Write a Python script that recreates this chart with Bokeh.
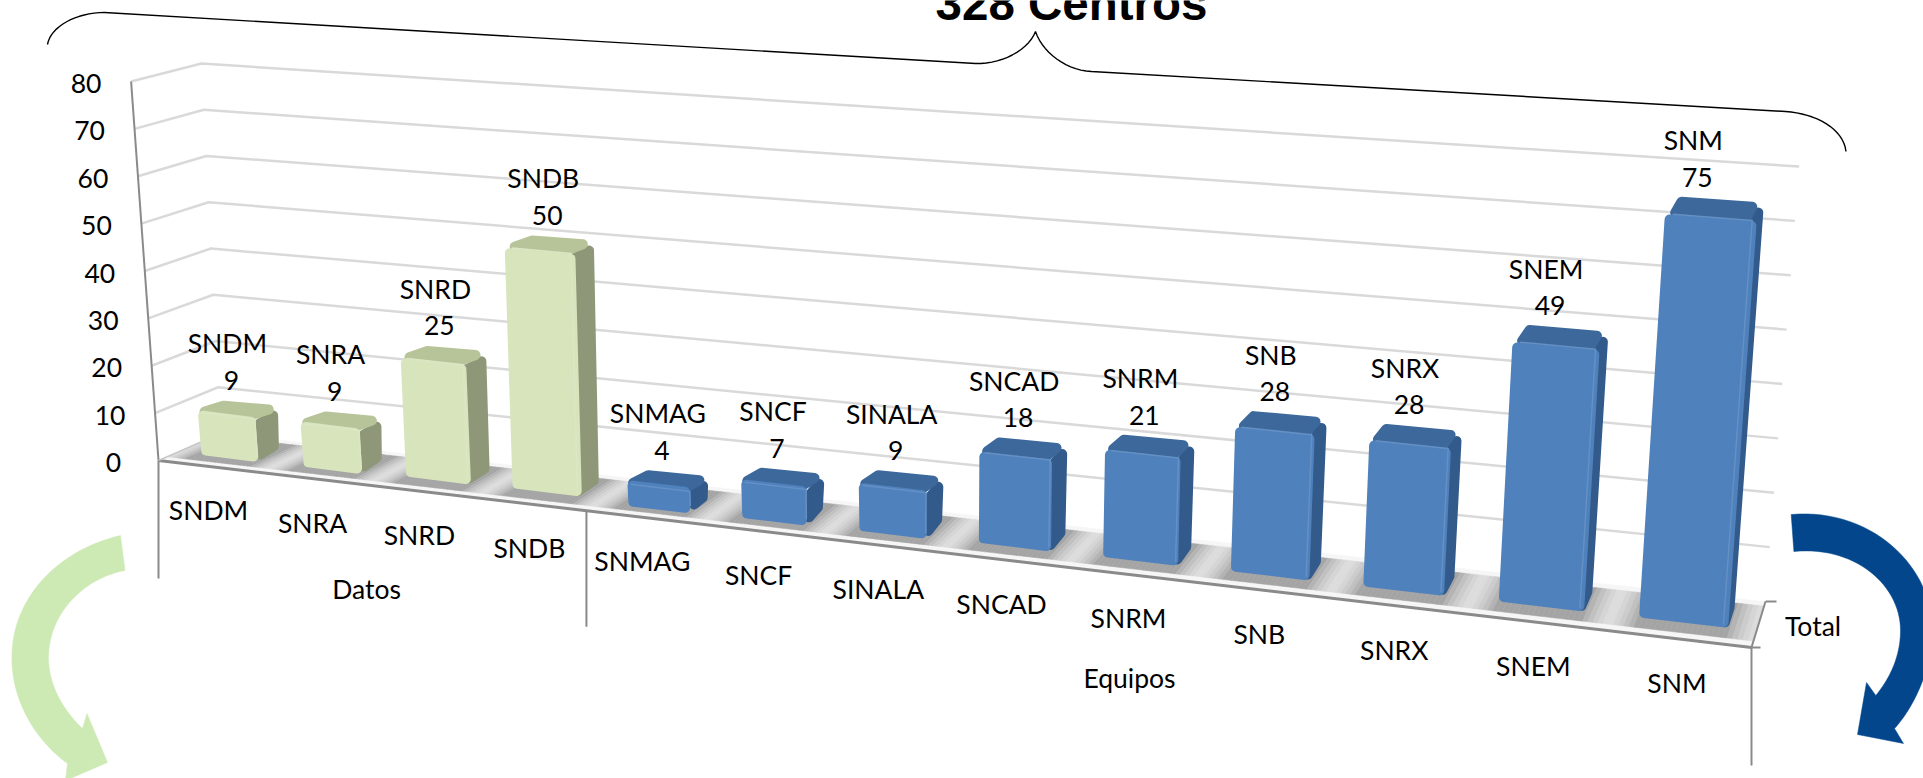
from bokeh.plotting import figure
from bokeh.models import Range1d, ColumnDataSource
from bokeh.core.properties import value
from bokeh.embed import file_html
from bokeh.resources import INLINE

# ---------- data ----------
group_names = ["Datos", "Equipos"]
group_sizes = [4, 9]
categories = ["SNDM", "SNRA", "SNRD", "SNDB", "SNMAG", "SNCF", "SINALA",
              "SNCAD", "SNRM", "SNB", "SNRX", "SNEM", "SNM"]
values = [9, 9, 25, 50, 4, 7, 9, 18, 21, 28, 28, 49, 75]
y_ticks = [0, 10, 20, 30, 40, 50, 60, 70, 80]
series_name = "Total"
title = "328 Centros"
title_mark = "**"

# ---------- look ----------
GREEN = ("#d7e4bc", "#b7c49a", "#8e9878")
BLUE = ("#4f81bd", "#3d689b", "#325a8a")
GRID = "#d9d9d9"
AXIS = "#8a8a8a"
FONT = "Lato"
N = len(categories)
VMAX = y_ticks[-1]

# ---------- 3-D projection of the chart box to page pixels ----------
F0L, F8L = (158.0, 460.0), (130.6, 81.0)
B0L, B8L = (220.0, 433.0), (201.0, 63.0)
F0R, F8R = (1751.0, 647.0), (1782.0, 208.0)
B0R, B8R = (1765.0, 601.0), (1798.6, 166.0)
PERSP = 1.21


def lerp(a, b, t):
    return (a[0] + (b[0] - a[0]) * t, a[1] + (b[1] - a[1]) * t)


def proj(u, v, d):
    t = u / N
    t = t / (t + PERSP * (1 - t))
    w = v / VMAX
    left = lerp(lerp(F0L, F8L, w), lerp(B0L, B8L, w), d)
    right = lerp(lerp(F0R, F8R, w), lerp(B0R, B8R, w), d)
    return lerp(left, right, t)


def inset(pts, r):
    cx = sum(p[0] for p in pts) / len(pts)
    cy = sum(p[1] for p in pts) / len(pts)
    out = []
    for x, y in pts:
        dx, dy = cx - x, cy - y
        k = (dx * dx + dy * dy) ** 0.5 or 1
        s = min(r * 1.3, k * 0.45) / k
        out.append((x + dx * s, y + dy * s))
    return out


p = figure(width=1923, height=778, x_range=Range1d(0, 1923), y_range=Range1d(778, 0),
           toolbar_location=None, output_backend="svg", min_border=0,
           outline_line_color=None, background_fill_color="white")
p.axis.visible = False
p.grid.visible = False


def seg(a, b, color, w):
    p.line([a[0], b[0]], [a[1], b[1]], line_color=color, line_width=w)


def poly(pts, fill, line=None, w=0):
    p.patch([q[0] for q in pts], [q[1] for q in pts], fill_color=fill,
            line_color=line or fill, line_width=w or 0.5, line_join="round")


def mix(c1, c2, t):
    a = [int(c1[i:i + 2], 16) for i in (1, 3, 5)]
    b = [int(c2[i:i + 2], 16) for i in (1, 3, 5)]
    return "#%02x%02x%02x" % tuple(int(a[i] + (b[i] - a[i]) * t) for i in range(3))


def cubic(a, b, c, e, n=30):
    out = []
    for i in range(n + 1):
        t = i / n
        m = 1 - t
        out.append((m**3 * a[0] + 3 * m*m*t * b[0] + 3 * m*t*t * c[0] + t**3 * e[0],
                    m**3 * a[1] + 3 * m*m*t * b[1] + 3 * m*t*t * c[1] + t**3 * e[1]))
    return out


# ---------- walls: gridlines ----------
for v in y_ticks[1:]:
    a, b, c = proj(0, v, 0), proj(0, v, 1), proj(N, v, 1)
    p.line([a[0], b[0], c[0]], [a[1], b[1], c[1]], line_color=GRID, line_width=2.5)
seg(proj(0, 0, 0), proj(0, VMAX, 0), AXIS, 2)

# ---------- floor ----------
poly([proj(0, 0, 0), proj(0, 0, 1), proj(N, 0, 1), proj(N, 0, 0)], "#f6f6f6")
STEPS = 28
for i in range(N):
    for k in range(STEPS):
        u0, u1 = i + k / STEPS, i + (k + 1) / STEPS
        c = (k + 0.5) / STEPS
        dist = min(c, 1 - c)
        col = mix("#dedede", "#a4a4a4", min(1, (dist / 0.2) ** 1.5))
        poly([proj(u0, 0, .14), proj(u0, 0, .9), proj(u1, 0, .9), proj(u1, 0, .14)], col)
# floor front edge, dividers and small ticks
seg(proj(0, 0, 0), proj(N, 0, 0), AXIS, 3)
seg(proj(0, 0, 1), proj(0, 0, 0), "#c8c8c8", 1.5)
seg(proj(N, 0, 1), proj(N, 0, 0), AXIS, 2)
seg(proj(N, 0, 0), (proj(N, 0, 0)[0] + 9, proj(N, 0, 0)[1]), AXIS, 2)
seg(proj(N, 0, 1), (proj(N, 0, 1)[0] + 11, proj(N, 0, 1)[1]), AXIS, 2)
for u, depth in [(0, 118), (group_sizes[0], 116), (N, 118)]:
    a = proj(u, 0, 0)
    seg(a, (a[0], a[1] + depth), AXIS, 2)

# ---------- bars ----------
HALF = 0.283
D0, D1 = 0.33, 0.65
R = 5
for i, v in enumerate(values):
    front, top, side = GREEN if i < group_sizes[0] else BLUE
    u0, u1 = i + .5 - HALF, i + .5 + HALF
    poly(inset([proj(u1, 0, D0), proj(u1, v, D0), proj(u1, v, D1), proj(u1, 0, D1)], R), side, side, 2 * R)
    poly(inset([proj(u0, v, D0), proj(u1, v, D0), proj(u1, v, D1), proj(u0, v, D1)], R), top, top, 2 * R)
    poly(inset([proj(u0, 0, D0), proj(u1, 0, D0), proj(u1, v, D0), proj(u0, v, D0)], R), front, front, 2 * R)
    # light bevel along the front face's top and right edges
    f = [proj(u0, v, D0), proj(u1, v, D0), proj(u1, 0, D0)]
    p.line([f[0][0] + 4, f[1][0] - 1, f[2][0] - 1], [f[0][1] + 1, f[1][1] + 1, f[2][1] - 4],
           line_color=mix(front, "#ffffff", .12), line_width=1.5, line_join="round")


# ---------- texts ----------
def texts(xs, ys, labels, size="26.5px", style="normal", color="#000000", font=FONT):
    src = ColumnDataSource(dict(x=xs, y=ys, t=labels))
    p.text("x", "y", text="t", source=src, text_font=value(font), text_font_size=size,
           text_align="center", text_baseline="middle", text_color=color, text_font_style=style)


tx = [proj(0, t, 0)[0] - 45 for t in y_ticks]
ty = [proj(0, t, 0)[1] + 2 for t in y_ticks]
texts(tx, ty, [str(t) for t in y_ticks])

cx, cy, nx, ny, vx, vy = [], [], [], [], [], []
for i, v in enumerate(values):
    a = proj(i + .5, 0, 0)
    cx.append(a[0] - 1)
    cy.append(a[1] + 44)
    b = proj(i + .5, v, D1)
    lx = proj(i + .5, v * .4, D0)[0] + 3
    vx.append(lx)
    vy.append(b[1] - 26)
    nx.append(lx - 4)
    ny.append(b[1] - 63)
texts(cx, cy, categories)
texts(nx, ny, categories)
texts(vx, vy, [str(v) for v in values])

gx, gy, start = [], [], 0
for s in group_sizes:
    a = proj(start + s / 2, 0, 0)
    gx.append(a[0])
    gy.append(a[1] + 104)
    start += s
texts(gx, gy, group_names)
texts([1812.5], [625], [series_name])
texts([1071], [3], [title], size="47.5px", style="bold", font="Liberation Sans")
texts([1211], [-2], [title_mark], size="24px", style="bold", font="Liberation Sans")

# ---------- brace over the chart ----------
brace = (cubic((47, 44), (50, 26), (76, 12), (104, 12), 16) + [(975, 63)]
         + cubic((975, 63), (1000, 64), (1028, 50), (1035, 31), 14)
         + cubic((1035, 31), (1042, 52), (1066, 70), (1091, 71), 14) + [(1785, 111)]
         + cubic((1785, 111), (1815, 113), (1843, 128), (1845.5, 151), 16))
p.line([q[0] for q in brace], [q[1] for q in brace], line_color="#000000", line_width=1.4)

# ---------- side arrows ----------
LEFT_ARROW = "#cdeab5"
RIGHT_ARROW = "#03468c"
outer = cubic((120, 535), (55, 550), (11, 600), (11.4, 657)) + cubic((11.4, 657), (11, 700), (35, 740), (67, 763))
inner = cubic((124.5, 570), (85, 577), (48, 612), (48, 657)) + cubic((48, 657), (48, 685), (63, 710), (82, 728))
poly(outer + [(65, 780), (107, 762), (86.5, 713)] + inner[::-1], LEFT_ARROW)

outer = cubic((1790.7, 514), (1870, 507), (1932, 565), (1932, 630)) + cubic((1932, 630), (1932, 665), (1915, 705), (1894, 728))
inner = cubic((1793.4, 551), (1855, 545), (1900, 585), (1900, 630)) + cubic((1900, 630), (1900, 655), (1890, 677), (1875.3, 695))
poly(outer + [(1903, 743), (1857, 734), (1866, 682)] + inner[::-1], RIGHT_ARROW)

open("out.html", "w").write(file_html(p, INLINE))
